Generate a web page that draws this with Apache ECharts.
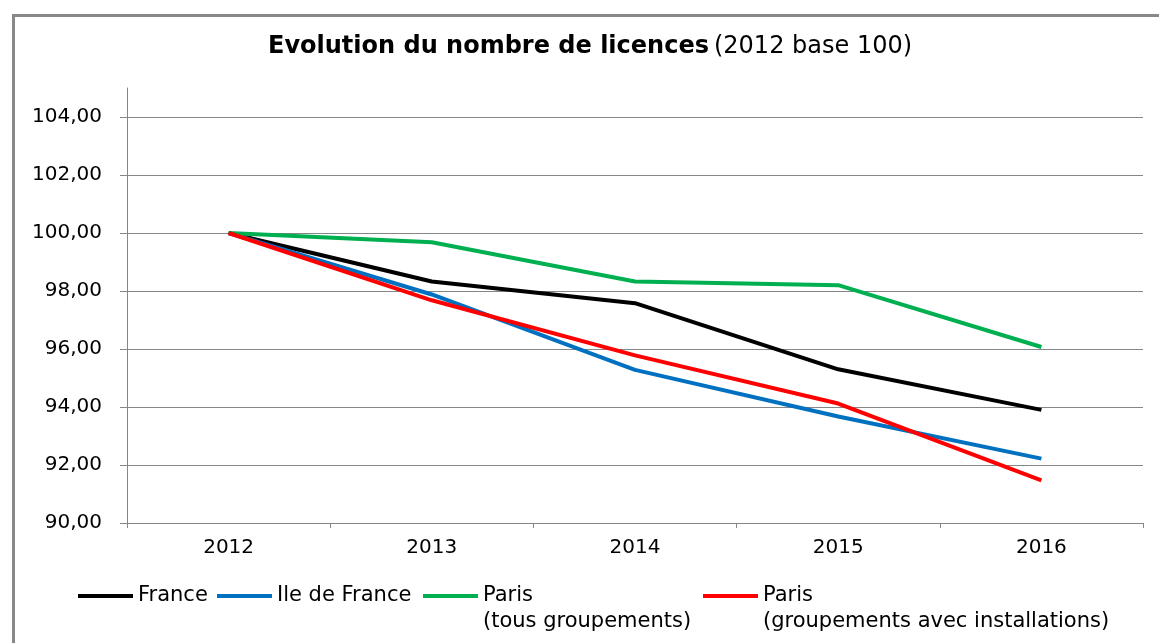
<!DOCTYPE html>
<html>
<head>
<meta charset="utf-8">
<script src="https://cdn.jsdelivr.net/npm/echarts@6/dist/echarts.min.js"></script>
<style>
html,body{margin:0;padding:0;background:#fff;}
#chart{width:1159px;height:643px;}
</style>
</head>
<body>
<div id="chart"></div>
<script>
const years = ['2012', '2013', '2014', '2015', '2016'];
const france = [100.00, 98.33, 97.58, 95.30, 93.90];
const ileDeFrance = [100.00, 97.88, 95.28, 93.67, 92.22];
const parisTous = [100.00, 99.68, 98.33, 98.20, 96.07];
const parisGroupements = [100.00, 97.68, 95.78, 94.12, 91.47];
const yTicks = [90, 92, 94, 96, 98, 100, 102, 104];
const seriesNames = ['France', 'Ile de France', 'Paris\n(tous groupements)', 'Paris\n(groupements avec installations)'];
const seriesColors = ['#000000', '#0070C0', '#00B050', '#FF0000'];
const seriesData = [france, ileDeFrance, parisTous, parisGroupements];

const FONT = 'DejaVu Sans';
const chart = echarts.init(document.getElementById('chart'), null, {renderer: 'canvas'});

const legendLefts = [78, 217, 423, 703];
const legends = seriesNames.map((n, i) => {
  const multi = n.indexOf('\n') >= 0;
  return {
    data: [n],
    left: legendLefts[i],
    top: multi ? 557 : 583,
    orient: 'horizontal',
    itemWidth: 55,
    itemHeight: 4,
    itemGap: 0,
    icon: 'rect',
    padding: 0,
    selectedMode: false,
    formatter: multi ? (name => '\n' + name) : '{name}',
    textStyle: {
      fontFamily: FONT, fontSize: 21, color: '#000', lineHeight: 26
    }
  };
});

chart.setOption({
  animation: false,
  backgroundColor: '#fff',
  title: {
    text: '{b|Evolution du nombre de licences} {n|(2012 base 100)}',
    left: 268,
    top: 35,
    padding: 0,
    textStyle: {
      rich: {
        b: {fontFamily: FONT, fontSize: 24, fontWeight: 'bold', color: '#000'},
        n: {fontFamily: FONT, fontSize: 24, fontWeight: 'normal', color: '#000'}
      }
    }
  },
  graphic: [{
    type: 'rect',
    left: 11, top: 13,
    shape: {width: 1200, height: 700},
    style: {fill: 'none', stroke: '#888888', lineWidth: 3},
    silent: true
  }],
  legend: legends,
  grid: {left: 127, right: 16, top: 88, bottom: 120, containLabel: false},
  xAxis: {
    type: 'category',
    data: years,
    boundaryGap: true,
    axisLine: {show: true, lineStyle: {color: '#868686', width: 1}},
    axisTick: {show: true, interval: 0, length: 5, alignWithLabel: false, lineStyle: {color: '#868686'}},
    axisLabel: {fontFamily: FONT, fontSize: 20, color: '#000', margin: 15, interval: 0},
    splitLine: {show: false}
  },
  yAxis: {
    type: 'value',
    min: 90,
    max: 105,
    interval: 2,
    axisLine: {show: true, lineStyle: {color: '#868686', width: 1}},
    axisTick: {show: true, length: 7, customValues: yTicks, lineStyle: {color: '#868686'}},
    axisLabel: {
      fontFamily: FONT, fontSize: 20, color: '#000', margin: 25,
      customValues: yTicks,
      formatter: v => v.toFixed(2).replace('.', ',')
    },
    splitLine: {show: true, lineStyle: {color: '#868686', width: 1}}
  },
  series: seriesNames.map((n, i) => ({
    name: n,
    type: 'line',
    data: seriesData[i],
    showSymbol: false,
    symbol: 'none',
    color: seriesColors[i],
    lineStyle: {width: 4, color: seriesColors[i]},
    smooth: false
  }))
});
</script>
</body>
</html>
